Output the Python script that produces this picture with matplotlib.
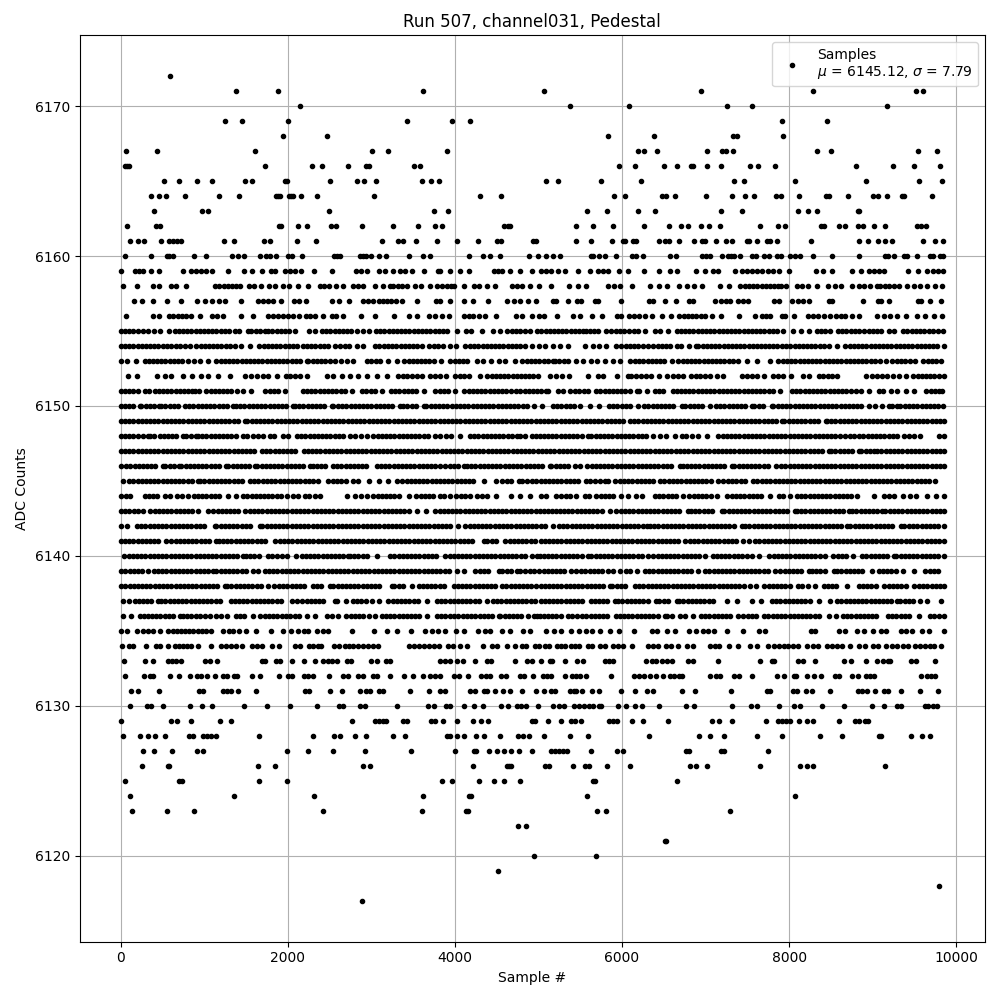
import numpy as np
import matplotlib
matplotlib.use('Agg')
import matplotlib.pyplot as plt

# sample numbers, one list per ADC level
s6172 = [588]
s6171 = [1380, 1884, 3612, 5064, 6948, 8280, 9516, 9600]
s6170 = [2148, 5376, 6084, 7260, 7560, 9168]
s6169 = [1248, 1452, 2004, 3420, 3960, 4176, 7920, 8448]
s6168 = [1944, 2472, 5832, 6384, 7332, 7380, 7932]
s6167 = [60, 432, 1608, 3012, 3204, 3900, 6192, 6264, 6420, 7020, 7200, 7248, 7332, 8328, 8496, 9540, 9768]
s6166 = [48, 72, 96, 1728, 2292, 2412, 2724, 2936, 2968, 3512, 3576, 5964, 6156, 6504, 6660, 6828, 6852, 7020, 7188,
         7536, 7632, 7836, 8796, 9240, 9492, 9804]
s6165 = [516, 696, 912, 1092, 1488, 1572, 1968, 1992, 2508, 2832, 2916, 3060, 3600, 3708, 3804, 5088, 5232, 5748, 6228,
         7344, 7464, 8076, 8916, 9552, 9828]
s6164 = [360, 456, 540, 768, 1176, 1416, 1860, 1884, 1908, 2016, 2040, 2064, 2160, 2352, 3036, 4296, 4548, 5904, 6036,
         6480, 6528, 6636, 7008, 7320, 7476, 7584, 7848, 7908, 8124, 8436, 8472, 8700, 9000, 9060, 9168, 9348, 9372, 9708]
s6163 = [396, 972, 1044, 2496, 3744, 3912, 5580, 5820, 6192, 6396, 7188, 7440, 8112, 8220, 8328, 8820, 8840]
s6162 = [72, 420, 468, 1896, 1920, 2124, 2232, 2520, 2580, 2892, 3264, 3552, 3756, 3840, 4584, 4632, 4664, 5448, 5652,
         5892, 6264, 6564, 6708, 6792, 6948, 7044, 7176, 7656, 7872, 7956, 8376, 8412, 8592, 8664, 8820, 8880, 9012,
         9144, 9528, 9576, 9636]
s6161 = [108, 204, 276, 480, 576, 624, 672, 720, 1236, 1356, 1716, 1788, 2112, 2340, 3132, 3324, 3372, 3528, 3780, 4020,
         4272, 4500, 4548, 4932, 4964, 5448, 5628, 5880, 6012, 6036, 6132, 6168, 6444, 6516, 6564, 6684, 6864, 6960,
         6996, 7128, 7248, 7320, 7500, 7524, 7620, 7740, 7776, 7860, 8256, 8832, 8940, 9060, 9144, 9228, 9600, 9744, 9845]
s6160 = [48, 360, 552, 576, 624, 876, 1020, 1332, 1404, 1476, 1668, 1740, 1788, 1860, 2004, 2052, 2172, 2556, 2592, 2628,
         2868, 2904, 2940, 3000, 3096, 3180, 3444, 3612, 3696, 4164, 4332, 4416, 4536, 4884, 4992, 5088, 5172, 5256,
         5628, 5652, 5724, 5796, 5928, 6120, 6168, 6252, 6576, 6648, 6960, 7008, 7056, 7200, 7272, 7308, 7344, 7416,
         7560, 7608, 7704, 7764, 7860, 7908, 8016, 8076, 8136, 8280, 8508, 8832, 9144, 9180, 9252, 9372, 9408, 9528,
         9684, 9720, 9804, 9845]
s6159 = [0, 168, 216, 264, 360, 456, 744, 840, 900, 960, 1020, 1092, 1284, 1476, 1572, 1692, 1800, 1848, 1960, 2020, 2090,
         2160, 2316, 2532, 2820, 2880, 2952, 3096, 3160, 3264, 3344, 3400, 3484, 3624, 3792, 3816, 3936, 4056, 4164,
         4464, 4520, 4564, 4656, 4776, 4920, 5028, 5088, 5148, 5232, 5316, 5472, 5620, 5712, 5772, 5832, 5964, 6072,
         6264, 6444, 6576, 6660, 6888, 6996, 7092, 7152, 7356, 7440, 7500, 7560, 7612, 7672, 7752, 7812, 7884, 8004,
         8316, 8400, 8508, 8748, 8856, 8952, 9012, 9070, 9132, 9420, 9540, 9648, 9720, 9780, 9845]
s6158 = [24, 192, 384, 456, 600, 656, 780, 1128, 1180, 1230, 1280, 1330, 1380, 1424, 1536, 1600, 1684, 1776, 1840, 1944,
         2016, 2124, 2244, 2384, 2430, 2490, 2576, 2664, 2784, 2840, 2900, 3044, 3144, 3224, 3264, 3320, 3370, 3424,
         3524, 3588, 3704, 3784, 3844, 3900, 3950, 3990, 4104, 4224, 4284, 4384, 4476, 4684, 4744, 4804, 4904, 5004,
         5152, 5364, 5472, 5572, 5832, 5900, 5980, 6124, 6340, 6444, 6540, 6684, 6780, 6864, 6960, 7176, 7284, 7416,
         7470, 7520, 7570, 7620, 7670, 7720, 7770, 7820, 7870, 7900, 7968, 8100, 8160, 8220, 8328, 8460, 8552, 8620,
         8752, 8832, 8900, 8970, 9052, 9092, 9150, 9200, 9260, 9320, 9412, 9500, 9572, 9652, 9744, 9824]
s6157 = [156, 252, 384, 552, 720, 912, 1008, 1092, 1176, 1248, 1440, 1644, 1700, 1760, 1824, 1920, 2076, 2136, 2220, 2532,
         2616, 2736, 2904, 2960, 3020, 3090, 3144, 3184, 3240, 3300, 3364, 3540, 3768, 3816, 3936, 4104, 4212, 4392,
         4620, 4704, 4776, 4872, 4968, 5172, 5208, 5352, 5460, 5508, 5676, 5712, 5988, 6324, 6372, 6516, 6648, 6804,
         6852, 7116, 7180, 7240, 7292, 7392, 7450, 7512, 7824, 7884, 8040, 8112, 8172, 8232, 8472, 8508, 8880, 9060,
         9096, 9192, 9540, 9576, 9684, 9816]
s6156 = [60, 384, 456, 576, 630, 680, 730, 776, 840, 948, 1092, 1150, 1224, 1440, 1584, 1764, 1824, 1884, 1940, 2000, 2056,
         2136, 2216, 2270, 2330, 2424, 2524, 2580, 2664, 2880, 3048, 3276, 3444, 3540, 3684, 3760, 3840, 3924, 4104,
         4170, 4220, 4290, 4364, 4488, 4728, 4800, 4924, 5004, 5064, 5220, 5412, 5492, 5640, 5760, 5940, 5992, 6084,
         6140, 6200, 6272, 6360, 6476, 6588, 6684, 6740, 6790, 6840, 6890, 6940, 6990, 7072, 7188, 7404, 7596, 7672,
         7720, 7772, 7912, 7956, 8064, 8220, 8280, 8340, 8412, 8492, 8560, 8620, 8672, 8748, 8832, 9052, 9132, 9204,
         9288, 9396, 9528, 9624, 9732, 9828]
s6155 = [0, 50, 100, 150, 200, 260, 324, 396, 470, 576, 644, 695, 745, 795, 845, 895, 945, 995, 1045, 1095, 1145, 1195, 1245,
         1295, 1364, 1416, 1524, 1564, 1620, 1670, 1724, 1764, 1815, 1865, 1915, 1965, 2015, 2084, 2256, 2320, 2404,
         2456, 2510, 2560, 2610, 2660, 2710, 2760, 2830, 2900, 2976, 3056, 3105, 3155, 3205, 3255, 3305, 3355, 3405,
         3455, 3505, 3555, 3605, 3655, 3705, 3755, 3805, 3855, 3904, 4024, 4136, 4192, 4324, 4456, 4536, 4624, 4680,
         4730, 4780, 4844, 4904, 4984, 5032, 5085, 5135, 5185, 5235, 5285, 5335, 5385, 5435, 5485, 5535, 5572, 5612,
         5665, 5715, 5812, 5872, 5925, 5975, 6025, 6080, 6140, 6192, 6280, 6392, 6460, 6552, 6652, 6705, 6755, 6805,
         6855, 6905, 6955, 7005, 7055, 7105, 7155, 7205, 7255, 7305, 7355, 7405, 7455, 7505, 7555, 7605, 7655, 7705,
         7755, 7805, 7855, 7932, 8044, 8140, 8236, 8332, 8385, 8435, 8485, 8580, 8632, 8685, 8735, 8785, 8835, 8892,
         8952, 9005, 9055, 9105, 9192, 9252, 9364, 9412, 9465, 9515, 9565, 9615, 9672, 9724, 9780, 9845]
s6154 = [0, 50, 100, 150, 200, 250, 300, 350, 400, 450, 500, 550, 600, 664, 704, 770, 824, 904, 955, 1005, 1055, 1105, 1155,
         1205, 1255, 1305, 1364, 1444, 1544, 1656, 1710, 1760, 1810, 1860, 1910, 1960, 2010, 2060, 2104, 2176, 2230,
         2280, 2330, 2380, 2430, 2480, 2564, 2624, 2680, 2730, 2824, 2904, 3044, 3096, 3150, 3200, 3250, 3300, 3350,
         3400, 3450, 3500, 3550, 3600, 3684, 3744, 3800, 3860, 3944, 4008, 4124, 4176, 4230, 4280, 4330, 4380, 4430,
         4480, 4530, 4580, 4630, 4680, 4730, 4780, 4844, 4924, 5000, 5072, 5172, 5260, 5352, 5552, 5648, 5728, 5812,
         5932, 5992, 6045, 6095, 6145, 6195, 6250, 6312, 6372, 6425, 6475, 6525, 6575, 6652, 6700, 6800, 6884, 6912,
         6965, 7015, 7065, 7115, 7165, 7215, 7265, 7315, 7365, 7415, 7465, 7515, 7565, 7615, 7665, 7715, 7765, 7812,
         7860, 7915, 7965, 8015, 8065, 8115, 8165, 8215, 8265, 8315, 8365, 8415, 8472, 8572, 8672, 8725, 8775, 8825,
         8875, 8925, 8975, 9025, 9075, 9125, 9175, 9225, 9275, 9325, 9375, 9425, 9475, 9525, 9575, 9625, 9675, 9725,
         9775, 9850]
s6153 = [0, 80, 184, 284, 335, 385, 435, 485, 535, 585, 635, 685, 735, 804, 872, 950, 1044, 1144, 1195, 1245, 1295, 1345, 1395,
         1445, 1495, 1545, 1595, 1645, 1695, 1745, 1795, 1845, 1895, 1945, 1995, 2045, 2095, 2145, 2224, 2244, 2300,
         2350, 2400, 2450, 2510, 2564, 2632, 2710, 2784, 2944, 3000, 3050, 3100, 3204, 3304, 3392, 3445, 3495, 3545,
         3595, 3645, 3695, 3745, 3832, 3944, 4000, 4050, 4100, 4150, 4264, 4336, 4430, 4524, 4604, 4724, 4804, 4860,
         4910, 4960, 5010, 5060, 5110, 5172, 5192, 5250, 5300, 5350, 5452, 5532, 5632, 5700, 5792, 5892, 5980, 6092,
         6152, 6205, 6255, 6305, 6355, 6405, 6455, 6505, 6592, 6672, 6725, 6775, 6825, 6875, 6925, 6975, 7025, 7075,
         7125, 7175, 7225, 7275, 7325, 7392, 7492, 7612, 7772, 7872, 7925, 7975, 8025, 8075, 8125, 8175, 8225, 8275,
         8325, 8375, 8425, 8475, 8525, 8575, 8625, 8675, 8725, 8775, 8825, 8875, 8925, 8975, 9025, 9092, 9156, 9232,
         9290, 9340, 9390, 9450, 9512, 9604, 9660, 9710, 9760, 9820]
s6152 = [92, 196, 432, 524, 600, 744, 852, 956, 1040, 1164, 1304, 1484, 1560, 1630, 1704, 1764, 1864, 1976, 2030, 2080, 2140,
         2224, 2472, 2544, 2644, 2744, 2844, 2944, 3064, 3184, 3324, 3380, 3430, 3480, 3540, 3604, 3704, 3760, 3820,
         3896, 3996, 4060, 4110, 4164, 4304, 4384, 4440, 4490, 4540, 4590, 4640, 4690, 4740, 4790, 4840, 4884, 4932,
         4992, 5132, 5212, 5280, 5364, 5596, 5712, 5772, 5940, 6072, 6104, 6172, 6230, 6290, 6352, 6444, 6540, 6612,
         6670, 6724, 6824, 6880, 6930, 6990, 7052, 7132, 7204, 7432, 7490, 7550, 7612, 7704, 7812, 7870, 7932, 8020,
         8164, 8232, 8352, 8410, 8460, 8510, 8572, 8924, 8990, 9052, 9112, 9170, 9240, 9312, 9400, 9484, 9540, 9590,
         9640, 9692, 9732, 9792, 9850]
s6151 = [0, 50, 100, 150, 200, 284, 332, 404, 455, 505, 555, 605, 655, 705, 755, 805, 855, 884, 936, 1024, 1075, 1125, 1175,
         1225, 1275, 1325, 1392, 1464, 1564, 1724, 1780, 1830, 1880, 1964, 2176, 2230, 2280, 2330, 2380, 2430, 2480,
         2530, 2580, 2630, 2684, 2772, 2884, 2940, 2990, 3040, 3124, 3232, 3285, 3335, 3385, 3435, 3485, 3535, 3632,
         3764, 3820, 3870, 3920, 4004, 4112, 4165, 4215, 4265, 4315, 4365, 4415, 4465, 4515, 4565, 4615, 4665, 4736,
         4784, 4835, 4885, 4935, 4985, 5035, 5084, 5112, 5232, 5292, 5372, 5432, 5490, 5540, 5590, 5692, 5740, 5790,
         5840, 5890, 5940, 5990, 6040, 6090, 6180, 6204, 6300, 6392, 6444, 6492, 6604, 6652, 6705, 6755, 6805, 6855,
         6905, 6955, 7005, 7055, 7105, 7155, 7205, 7255, 7305, 7355, 7405, 7455, 7505, 7555, 7605, 7655, 7705, 7755,
         7805, 7892, 8032, 8085, 8135, 8185, 8235, 8285, 8335, 8385, 8435, 8485, 8535, 8585, 8635, 8685, 8735, 8804,
         8860, 8960, 9072, 9124, 9216, 9292, 9400, 9492, 9644, 9695, 9745, 9790, 9832]
s6150 = [0, 50, 100, 150, 224, 244, 300, 350, 400, 456, 484, 535, 585, 635, 685, 764, 816, 870, 920, 970, 1020, 1070, 1120,
         1170, 1220, 1270, 1344, 1376, 1430, 1480, 1530, 1580, 1630, 1680, 1730, 1780, 1830, 1880, 1930, 1980, 2056,
         2084, 2135, 2185, 2235, 2285, 2335, 2385, 2435, 2524, 2544, 2600, 2650, 2700, 2750, 2800, 2850, 2900, 2950,
         3000, 3050, 3100, 3150, 3200, 3250, 3344, 3376, 3430, 3480, 3530, 3632, 3656, 3710, 3760, 3810, 3860, 3910,
         3960, 4010, 4060, 4110, 4160, 4210, 4260, 4310, 4360, 4410, 4460, 4510, 4560, 4610, 4660, 4710, 4760, 4810,
         4860, 4944, 5044, 5172, 5225, 5275, 5325, 5375, 5425, 5492, 5612, 5724, 5844, 5895, 5945, 5995, 6045, 6095,
         6192, 6260, 6315, 6365, 6415, 6465, 6515, 6565, 6615, 6712, 6756, 6810, 6860, 6910, 6960, 7052, 7120, 7175,
         7225, 7275, 7325, 7375, 7425, 7475, 7552, 7580, 7640, 7690, 7792, 7812, 7865, 7915, 7965, 8015, 8065, 8115,
         8165, 8215, 8265, 8315, 8365, 8415, 8465, 8515, 8565, 8615, 8665, 8715, 8765, 8815, 8865, 8952, 9032, 9110,
         9192, 9232, 9292, 9332, 9385, 9435, 9485, 9535, 9585, 9635, 9685, 9735, 9785, 9840]
s6149 = [0, 50, 100, 150, 200, 250, 300, 350, 400, 450, 500, 550, 600, 650, 700, 750, 800, 850, 900, 950, 1000, 1050, 1100,
         1150, 1200, 1250, 1300, 1350, 1400, 1484, 1512, 1565, 1615, 1665, 1715, 1765, 1815, 1865, 1915, 1965, 2015,
         2065, 2115, 2165, 2215, 2265, 2315, 2365, 2415, 2465, 2515, 2565, 2615, 2665, 2715, 2765, 2815, 2865, 2915,
         2965, 3015, 3065, 3115, 3165, 3215, 3265, 3315, 3365, 3415, 3465, 3515, 3565, 3615, 3665, 3715, 3765, 3815,
         3865, 3915, 3965, 4015, 4065, 4115, 4165, 4215, 4265, 4315, 4365, 4415, 4465, 4515, 4565, 4615, 4665, 4715,
         4765, 4815, 4865, 4915, 4965, 5015, 5065, 5115, 5165, 5215, 5265, 5315, 5365, 5415, 5465, 5515, 5565, 5615,
         5665, 5715, 5765, 5815, 5865, 5915, 5965, 6015, 6092, 6140, 6195, 6245, 6295, 6345, 6395, 6445, 6495, 6545,
         6595, 6645, 6695, 6745, 6795, 6845, 6895, 6945, 6995, 7045, 7095, 7145, 7195, 7245, 7295, 7345, 7395, 7445,
         7495, 7545, 7595, 7645, 7695, 7745, 7795, 7845, 7912, 7940, 7995, 8045, 8095, 8145, 8195, 8245, 8295, 8345,
         8444, 8452, 8505, 8555, 8605, 8655, 8705, 8755, 8805, 8855, 8905, 8955, 9005, 9055, 9105, 9155, 9205, 9255,
         9305, 9355, 9405, 9455, 9505, 9555, 9605, 9655, 9705, 9755, 9805, 9850]
s6148 = [0, 50, 100, 150, 200, 260, 324, 344, 400, 464, 512, 565, 615, 665, 744, 776, 840, 896, 924, 975, 1025, 1075, 1125,
         1175, 1225, 1275, 1325, 1375, 1464, 1512, 1584, 1640, 1700, 1784, 1832, 1936, 2004, 2104, 2160, 2210, 2260,
         2310, 2360, 2410, 2460, 2510, 2560, 2610, 2660, 2744, 2804, 2880, 2944, 3024, 3075, 3125, 3175, 3225, 3275,
         3325, 3375, 3425, 3475, 3525, 3575, 3625, 3675, 3764, 3824, 3890, 3950, 4064, 4176, 4230, 4280, 4330, 4380,
         4430, 4480, 4530, 4580, 4630, 4680, 4744, 4784, 4840, 4924, 4964, 5015, 5065, 5115, 5165, 5215, 5265, 5315,
         5365, 5415, 5465, 5515, 5592, 5632, 5685, 5735, 5785, 5835, 5885, 5935, 5985, 6035, 6085, 6135, 6185, 6235,
         6285, 6372, 6452, 6530, 6632, 6712, 6770, 6832, 6904, 7012, 7152, 7205, 7255, 7305, 7355, 7405, 7455, 7505,
         7555, 7605, 7655, 7705, 7755, 7805, 7855, 7905, 7955, 8005, 8055, 8105, 8155, 8205, 8255, 8305, 8355, 8405,
         8455, 8505, 8555, 8605, 8672, 8724, 8780, 8832, 8884, 8940, 8990, 9040, 9090, 9140, 9190, 9240, 9290, 9372,
         9432, 9500, 9572, 9792, 9850]
s6147 = [0, 50, 100, 150, 200, 250, 300, 350, 400, 450, 500, 550, 600, 650, 700, 750, 800, 850, 900, 950, 1000, 1050, 1100,
         1150, 1200, 1250, 1300, 1350, 1400, 1450, 1500, 1550, 1600, 1690, 1740, 1790, 1840, 1890, 1940, 1990, 2040,
         2090, 2190, 2240, 2290, 2340, 2390, 2440, 2490, 2540, 2590, 2640, 2690, 2740, 2790, 2840, 2890, 2940, 2990,
         3040, 3090, 3140, 3190, 3240, 3290, 3340, 3390, 3440, 3490, 3540, 3590, 3640, 3690, 3740, 3790, 3840, 3890,
         3940, 3990, 4040, 4090, 4140, 4190, 4240, 4290, 4340, 4390, 4440, 4490, 4540, 4590, 4640, 4690, 4740, 4790,
         4840, 4890, 4940, 4990, 5040, 5090, 5140, 5190, 5240, 5290, 5340, 5390, 5440, 5490, 5540, 5590, 5640, 5690,
         5740, 5790, 5840, 5890, 5940, 5990, 6040, 6090, 6140, 6190, 6240, 6290, 6340, 6390, 6440, 6490, 6540, 6590,
         6640, 6690, 6740, 6790, 6852, 6892, 6945, 6995, 7045, 7095, 7145, 7195, 7245, 7295, 7345, 7395, 7445, 7495,
         7545, 7595, 7645, 7695, 7745, 7795, 7845, 7895, 7945, 7995, 8045, 8095, 8145, 8195, 8245, 8295, 8345, 8395,
         8472, 8500, 8555, 8605, 8655, 8705, 8755, 8832, 8860, 8920, 8970, 9020, 9052, 9105, 9155, 9205, 9255, 9305,
         9355, 9405, 9455, 9505, 9555, 9605, 9655, 9705, 9755, 9805, 9850]
s6146 = [0, 64, 115, 165, 215, 265, 315, 365, 415, 504, 532, 590, 640, 696, 724, 775, 825, 875, 925, 975, 1025, 1075, 1125,
         1175, 1264, 1284, 1340, 1390, 1440, 1490, 1540, 1604, 1632, 1685, 1735, 1785, 1835, 1885, 1935, 1985, 2035,
         2085, 2135, 2185, 2264, 2296, 2350, 2400, 2450, 2544, 2584, 2640, 2690, 2740, 2790, 2840, 2890, 2940, 3064,
         3112, 3165, 3215, 3265, 3315, 3365, 3415, 3465, 3515, 3565, 3615, 3665, 3715, 3765, 3824, 3884, 3940, 3990,
         4040, 4112, 4144, 4195, 4245, 4295, 4345, 4395, 4445, 4495, 4545, 4595, 4645, 4695, 4745, 4795, 4845, 4895,
         4945, 4995, 5045, 5132, 5152, 5205, 5255, 5305, 5355, 5432, 5500, 5580, 5635, 5685, 5735, 5785, 5835, 5885,
         5935, 5985, 6035, 6085, 6135, 6185, 6235, 6285, 6335, 6385, 6435, 6485, 6535, 6585, 6692, 6724, 6775, 6825,
         6875, 6925, 6975, 7025, 7075, 7125, 7175, 7225, 7312, 7340, 7395, 7445, 7495, 7545, 7595, 7645, 7695, 7745,
         7844, 7900, 7955, 8005, 8055, 8105, 8155, 8205, 8255, 8305, 8355, 8405, 8455, 8505, 8555, 8605, 8655, 8705,
         8755, 8805, 8855, 8905, 8955, 9005, 9055, 9105, 9155, 9205, 9255, 9305, 9355, 9405, 9455, 9505, 9555, 9605,
         9655, 9705, 9755, 9805, 9850]
s6145 = [32, 96, 150, 200, 250, 300, 350, 400, 450, 500, 550, 600, 650, 700, 750, 800, 850, 924, 944, 1000, 1050, 1100, 1150,
         1200, 1250, 1300, 1350, 1400, 1450, 1544, 1592, 1644, 1700, 1750, 1800, 1850, 1900, 1950, 2000, 2050, 2100,
         2150, 2200, 2250, 2300, 2364, 2484, 2540, 2590, 2640, 2690, 2784, 2844, 2976, 3096, 3200, 3304, 3364, 3420,
         3470, 3520, 3570, 3620, 3670, 3720, 3770, 3820, 3870, 3920, 3970, 4020, 4070, 4120, 4170, 4220, 4344, 4492,
         4564, 4620, 4670, 4764, 4804, 4860, 4924, 4972, 5025, 5075, 5125, 5175, 5225, 5275, 5325, 5375, 5425, 5475,
         5564, 5620, 5680, 5740, 5792, 5832, 5920, 5972, 6025, 6075, 6125, 6175, 6225, 6275, 6325, 6375, 6452, 6504,
         6560, 6610, 6660, 6710, 6760, 6810, 6860, 6910, 6960, 7010, 7060, 7152, 7212, 7270, 7320, 7370, 7420, 7470,
         7564, 7620, 7675, 7725, 7775, 7825, 7875, 7925, 7975, 8025, 8075, 8125, 8175, 8225, 8275, 8325, 8375, 8425,
         8475, 8525, 8575, 8625, 8675, 8725, 8775, 8825, 8875, 8925, 8975, 9025, 9075, 9125, 9175, 9225, 9275, 9325,
         9375, 9425, 9475, 9525, 9575, 9625, 9675, 9752]
s6144 = [4, 60, 112, 284, 335, 385, 435, 524, 584, 672, 730, 804, 872, 925, 975, 1025, 1075, 1125, 1175, 1284, 1376, 1464,
         1515, 1565, 1615, 1665, 1715, 1765, 1815, 1865, 1915, 1992, 2056, 2120, 2204, 2256, 2320, 2384, 2712, 2804,
         2880, 2952, 3024, 3075, 3125, 3175, 3225, 3275, 3325, 3444, 3536, 3590, 3640, 3690, 3740, 3824, 3872, 3944,
         4016, 4070, 4120, 4180, 4264, 4324, 4384, 4496, 4672, 4776, 4904, 5024, 5092, 5204, 5272, 5330, 5380, 5450,
         5552, 5604, 5692, 5745, 5795, 5845, 5895, 5992, 6072, 6164, 6244, 6392, 6445, 6495, 6545, 6595, 6645, 6732,
         6804, 6860, 6910, 6960, 7010, 7060, 7132, 7260, 7315, 7365, 7415, 7465, 7515, 7565, 7615, 7665, 7772, 7884,
         7932, 8012, 8092, 8145, 8195, 8245, 8295, 8345, 8395, 8445, 8495, 8545, 8595, 8645, 8695, 8745, 8812, 9020,
         9132, 9190, 9252, 9364, 9452, 9520, 9652, 9756, 9852]
s6143 = [0, 50, 100, 156, 204, 270, 344, 404, 455, 505, 555, 605, 655, 705, 755, 805, 855, 924, 1044, 1104, 1160, 1210, 1260,
         1310, 1360, 1404, 1492, 1545, 1595, 1645, 1695, 1745, 1795, 1845, 1895, 1945, 1995, 2045, 2095, 2145, 2195,
         2245, 2295, 2345, 2395, 2445, 2495, 2545, 2595, 2645, 2695, 2745, 2795, 2845, 2895, 2945, 2995, 3045, 3095,
         3145, 3195, 3245, 3295, 3345, 3395, 3445, 3544, 3656, 3764, 3815, 3865, 3915, 3965, 4015, 4065, 4115, 4165,
         4215, 4265, 4315, 4365, 4415, 4465, 4515, 4565, 4615, 4665, 4715, 4765, 4815, 4865, 4915, 4965, 5015, 5065,
         5115, 5164, 5204, 5255, 5305, 5355, 5405, 5455, 5505, 5555, 5605, 5655, 5705, 5755, 5852, 5932, 5985, 6035,
         6085, 6135, 6185, 6235, 6285, 6335, 6385, 6435, 6485, 6535, 6585, 6635, 6685, 6792, 6820, 6875, 6925, 6975,
         7025, 7075, 7192, 7224, 7275, 7325, 7375, 7425, 7475, 7525, 7575, 7625, 7675, 7725, 7775, 7825, 7875, 7925,
         7975, 8072, 8092, 8145, 8195, 8245, 8295, 8345, 8395, 8445, 8495, 8545, 8595, 8645, 8712, 8752, 8805, 8855,
         8905, 8955, 9005, 9055, 9112, 9152, 9205, 9255, 9305, 9355, 9405, 9455, 9505, 9555, 9605, 9655, 9705, 9755,
         9805, 9850]
s6142 = [4, 80, 192, 244, 295, 345, 395, 445, 495, 545, 595, 645, 695, 745, 795, 845, 895, 945, 995, 1124, 1144, 1195, 1245,
         1295, 1345, 1395, 1445, 1495, 1545, 1664, 1696, 1745, 1795, 1845, 1895, 1945, 1995, 2045, 2095, 2145, 2195,
         2245, 2295, 2345, 2395, 2445, 2495, 2545, 2595, 2645, 2695, 2745, 2795, 2845, 2895, 2945, 2995, 3045, 3095,
         3145, 3195, 3245, 3295, 3345, 3395, 3445, 3495, 3545, 3595, 3645, 3695, 3745, 3795, 3845, 3895, 3945, 4032,
         4124, 4175, 4225, 4275, 4325, 4375, 4425, 4475, 4525, 4575, 4625, 4675, 4725, 4775, 4825, 4875, 4925, 4975,
         5025, 5075, 5172, 5244, 5295, 5345, 5395, 5445, 5495, 5545, 5595, 5645, 5695, 5745, 5795, 5845, 5895, 5945,
         5995, 6045, 6095, 6145, 6195, 6245, 6300, 6332, 6385, 6435, 6485, 6535, 6585, 6635, 6685, 6735, 6785, 6835,
         6885, 6935, 6985, 7035, 7085, 7135, 7185, 7235, 7285, 7335, 7432, 7472, 7525, 7575, 7625, 7675, 7725, 7775,
         7825, 7875, 7925, 7975, 8025, 8075, 8125, 8175, 8225, 8275, 8325, 8375, 8425, 8475, 8525, 8575, 8625, 8692,
         8732, 8785, 8835, 8885, 8935, 8985, 9035, 9085, 9135, 9185, 9235, 9340, 9380, 9435, 9485, 9535, 9585, 9635,
         9685, 9735, 9785, 9852]
s6141 = [0, 50, 100, 150, 200, 250, 300, 350, 400, 450, 544, 604, 655, 705, 755, 805, 855, 905, 955, 1005, 1055, 1144, 1176,
         1225, 1275, 1325, 1375, 1425, 1475, 1525, 1575, 1625, 1675, 1725, 1844, 1904, 1955, 2005, 2055, 2105, 2155,
         2205, 2255, 2305, 2355, 2405, 2455, 2505, 2555, 2605, 2655, 2705, 2755, 2805, 2855, 2905, 2955, 3005, 3055,
         3105, 3155, 3205, 3255, 3305, 3355, 3405, 3455, 3505, 3555, 3605, 3655, 3705, 3755, 3805, 3855, 3905, 3955,
         4005, 4055, 4105, 4155, 4205, 4344, 4384, 4440, 4490, 4604, 4656, 4705, 4755, 4805, 4855, 4905, 4955, 5024,
         5075, 5125, 5175, 5225, 5275, 5325, 5375, 5425, 5475, 5525, 5575, 5625, 5675, 5725, 5775, 5825, 5875, 5925,
         5975, 6025, 6075, 6125, 6175, 6225, 6275, 6325, 6375, 6425, 6475, 6525, 6575, 6625, 6675, 6752, 6812, 6865,
         6915, 6965, 7015, 7065, 7115, 7165, 7215, 7265, 7315, 7365, 7452, 7520, 7592, 7645, 7695, 7745, 7795, 7845,
         7895, 7945, 7995, 8045, 8095, 8145, 8195, 8245, 8295, 8345, 8395, 8445, 8495, 8545, 8595, 8645, 8695, 8745,
         8795, 8845, 8895, 8945, 8995, 9045, 9095, 9145, 9195, 9245, 9295, 9345, 9395, 9445, 9495, 9545, 9595, 9645,
         9695, 9745, 9795, 9850]
s6140 = [44, 95, 145, 195, 245, 295, 345, 395, 445, 495, 545, 595, 645, 695, 745, 795, 845, 895, 945, 995, 1045, 1095, 1145,
         1195, 1245, 1295, 1345, 1395, 1464, 1496, 1550, 1600, 1650, 1764, 1804, 1864, 1924, 1990, 2096, 2164, 2215,
         2265, 2315, 2365, 2415, 2465, 2515, 2565, 2615, 2665, 2724, 2744, 2795, 2845, 2895, 2945, 3064, 3224, 3275,
         3325, 3375, 3425, 3475, 3525, 3575, 3625, 3675, 3725, 3775, 3884, 3936, 3985, 4035, 4085, 4135, 4185, 4235,
         4285, 4335, 4385, 4435, 4485, 4535, 4585, 4635, 4685, 4735, 4785, 4835, 4924, 4984, 5015, 5065, 5115, 5165,
         5215, 5265, 5315, 5365, 5415, 5465, 5515, 5592, 5632, 5685, 5735, 5785, 5835, 5885, 5935, 5985, 6035, 6085,
         6135, 6185, 6235, 6312, 6372, 6425, 6475, 6525, 6575, 6625, 6675, 6725, 6775, 6825, 6875, 6925, 6992, 7084,
         7135, 7185, 7235, 7285, 7335, 7385, 7435, 7492, 7552, 7644, 7764, 7815, 7865, 7915, 7965, 8015, 8065, 8115,
         8165, 8215, 8265, 8315, 8365, 8432, 8524, 8580, 8630, 8680, 8764, 8872, 8925, 8975, 9025, 9075, 9125, 9175,
         9252, 9284, 9335, 9385, 9435, 9485, 9535, 9585, 9635, 9685, 9735, 9785, 9850]
s6139 = [4, 55, 105, 155, 205, 255, 324, 392, 445, 495, 545, 595, 645, 695, 745, 795, 845, 895, 945, 995, 1045, 1104, 1144,
         1195, 1245, 1295, 1345, 1395, 1445, 1495, 1584, 1644, 1724, 1775, 1825, 1875, 1925, 1975, 2025, 2075, 2125,
         2175, 2225, 2275, 2325, 2375, 2425, 2475, 2525, 2575, 2625, 2675, 2725, 2775, 2825, 2875, 2925, 2975, 3025,
         3075, 3125, 3175, 3225, 3275, 3325, 3375, 3425, 3475, 3525, 3575, 3625, 3675, 3725, 3775, 3825, 3875, 3925,
         4024, 4104, 4244, 4300, 4350, 4400, 4524, 4564, 4620, 4670, 4744, 4784, 4840, 4900, 4944, 5004, 5060, 5110,
         5160, 5210, 5260, 5310, 5392, 5444, 5512, 5560, 5620, 5660, 5715, 5765, 5832, 5892, 5972, 6044, 6100, 6180,
         6272, 6325, 6375, 6425, 6475, 6525, 6575, 6625, 6675, 6725, 6775, 6825, 6912, 6992, 7045, 7095, 7145, 7195,
         7245, 7295, 7345, 7395, 7445, 7495, 7545, 7595, 7645, 7695, 7745, 7832, 7892, 7945, 7995, 8045, 8095, 8145,
         8232, 8272, 8325, 8375, 8425, 8532, 8572, 8625, 8675, 8725, 8775, 8825, 8875, 8992, 9072, 9125, 9175, 9225,
         9275, 9364, 9500, 9632, 9685, 9735, 9780]
s6138 = [4, 55, 105, 155, 205, 255, 305, 355, 405, 455, 505, 555, 605, 655, 705, 755, 805, 855, 905, 955, 1005, 1055, 1105,
         1155, 1244, 1272, 1325, 1375, 1425, 1475, 1525, 1575, 1625, 1675, 1764, 1832, 1896, 1945, 1995, 2045, 2095,
         2145, 2195, 2304, 2344, 2400, 2504, 2544, 2595, 2645, 2695, 2745, 2795, 2845, 2895, 2945, 2995, 3045, 3095,
         3244, 3272, 3325, 3375, 3484, 3564, 3615, 3665, 3715, 3765, 3815, 3865, 3984, 4032, 4085, 4135, 4185, 4235,
         4285, 4335, 4385, 4435, 4485, 4564, 4616, 4665, 4715, 4765, 4815, 4865, 4915, 4965, 5024, 5075, 5125, 5175,
         5225, 5275, 5325, 5375, 5425, 5475, 5525, 5575, 5625, 5675, 5725, 5775, 5852, 5884, 5935, 5985, 6035, 6152,
         6204, 6255, 6305, 6355, 6405, 6455, 6505, 6555, 6605, 6655, 6705, 6755, 6805, 6855, 6905, 6955, 7005, 7055,
         7105, 7155, 7205, 7255, 7305, 7355, 7405, 7455, 7532, 7604, 7700, 7755, 7805, 7855, 7905, 7955, 8005, 8112,
         8152, 8230, 8312, 8412, 8465, 8515, 8565, 8692, 8832, 8885, 8935, 8985, 9035, 9132, 9192, 9245, 9295, 9345,
         9395, 9492, 9552, 9605, 9655, 9705, 9755, 9805, 9850]
s6137 = [32, 104, 164, 215, 265, 315, 365, 444, 484, 535, 585, 635, 685, 735, 785, 835, 885, 935, 985, 1035, 1085, 1135,
         1185, 1324, 1364, 1415, 1465, 1515, 1565, 1615, 1665, 1715, 1765, 1815, 1865, 1915, 2044, 2104, 2164, 2224,
         2275, 2325, 2375, 2425, 2564, 2592, 2696, 2776, 2830, 2880, 2930, 3010, 3096, 3204, 3255, 3305, 3355, 3405,
         3455, 3505, 3555, 3664, 3784, 3835, 3885, 3935, 3985, 4035, 4085, 4135, 4185, 4235, 4285, 4384, 4456, 4505,
         4555, 4605, 4655, 4705, 4755, 4805, 4855, 4905, 4955, 5024, 5075, 5125, 5175, 5225, 5275, 5325, 5375, 5425,
         5475, 5525, 5632, 5672, 5725, 5775, 5825, 5912, 5952, 6005, 6055, 6105, 6155, 6205, 6255, 6305, 6404, 6444,
         6500, 6550, 6652, 6684, 6735, 6785, 6835, 6885, 6935, 6985, 7035, 7085, 7252, 7380, 7552, 7660, 7792, 7845,
         7895, 7945, 7995, 8045, 8095, 8145, 8195, 8245, 8352, 8492, 8572, 8625, 8675, 8725, 8775, 8825, 8875, 8925,
         8975, 9025, 9075, 9125, 9175, 9225, 9292, 9332, 9385, 9435, 9485, 9572, 9652, 9820]
s6136 = [24, 124, 224, 275, 325, 375, 425, 475, 525, 575, 625, 712, 744, 795, 845, 895, 945, 1010, 1072, 1136, 1200, 1272,
         1376, 1430, 1480, 1584, 1672, 1725, 1775, 1825, 1875, 1925, 1975, 2025, 2084, 2136, 2232, 2324, 2464, 2530, 2604,
         2696, 2750, 2800, 2850, 2904, 2976, 3048, 3124, 3175, 3225, 3275, 3325, 3375, 3425, 3475, 3525, 3575, 3664, 3784,
         3835, 3885, 3935, 3985, 4035, 4096, 4144, 4195, 4245, 4295, 4345, 4395, 4445, 4524, 4544, 4595, 4645, 4695,
         4745, 4795, 4872, 4952, 4985, 5012, 5060, 5115, 5165, 5215, 5265, 5352, 5404, 5460, 5524, 5572, 5625, 5675,
         5725, 5775, 5825, 5932, 5972, 6025, 6075, 6125, 6175, 6225, 6275, 6325, 6375, 6425, 6512, 6540, 6600, 6692,
         6752, 6852, 6940, 6995, 7045, 7095, 7145, 7195, 7245, 7295, 7392, 7452, 7505, 7555, 7605, 7700, 7752, 7805,
         7855, 7905, 7955, 8005, 8055, 8105, 8155, 8205, 8255, 8305, 8355, 8472, 8556, 8644, 8695, 8745, 8795, 8845,
         8895, 8945, 8995, 9045, 9180, 9232, 9285, 9335, 9385, 9435, 9552, 9684, 9740, 9790, 9850]
s6135 = [0, 72, 192, 264, 324, 384, 472, 564, 620, 670, 720, 770, 820, 870, 920, 970, 1020, 1084, 1224, 1296, 1344, 1420, 1496,
         1624, 1792, 1936, 2040, 2124, 2190, 2244, 2344, 2420, 2484, 2764, 3036, 3192, 3304, 3472, 3644, 3720, 3800,
         3884, 4008, 4104, 4272, 4364, 4424, 4564, 4664, 4816, 4896, 5092, 5180, 5272, 5392, 5480, 5572, 5644, 5740,
         5850, 5964, 6148, 6364, 6420, 6540, 6636, 6804, 6890, 6972, 7032, 7100, 7260, 7452, 7644, 7712, 8260, 8312,
         8592, 8672, 8812, 8900, 9004, 9100, 9164, 9340, 9400, 9472, 9596, 9672, 9852]
s6134 = [12, 96, 144, 300, 420, 468, 564, 648, 696, 744, 792, 840, 924, 1080, 1200, 1260, 1320, 1380, 1452, 1572, 1632,
         1692, 1812, 1896, 2088, 2148, 2256, 2304, 2364, 2400, 2556, 2616, 2688, 2736, 2784, 2844, 2904, 2964, 3024,
         3084, 3444, 3504, 3564, 3624, 3684, 3744, 3804, 3912, 3972, 4056, 4140, 4332, 4440, 4500, 4620, 4716, 4800,
         4848, 4956, 5004, 5076, 5124, 5220, 5268, 5316, 5388, 5436, 5484, 5592, 5640, 5736, 5796, 5892, 5952, 6012,
         6120, 6312, 6372, 6432, 6528, 6588, 6672, 6780, 6852, 7056, 7116, 7164, 7284, 7392, 7536, 7620, 7752, 7824,
         7884, 7944, 7992, 8052, 8112, 8208, 8280, 8340, 8448, 8508, 8568, 8628, 8724, 8832, 8904, 9000, 9060, 9156,
         9228, 9288, 9360, 9420, 9504, 9564, 9624, 9684, 9732, 9816]
s6133 = [36, 288, 384, 564, 612, 660, 720, 1008, 1068, 1152, 1692, 1728, 1860, 1908, 2052, 2196, 2328, 2424, 2484, 2532,
         2592, 2712, 2760, 3000, 3072, 3180, 3228, 3816, 3876, 3936, 4020, 4092, 4236, 4380, 4428, 4716, 4860, 4920,
         5028, 5136, 5160, 5316, 5460, 5532, 5796, 5844, 5892, 6288, 6360, 6408, 6480, 6540, 6600, 6792, 6852, 7152,
         7656, 7800, 7824, 8112, 8172, 8304, 8652, 8736, 8916, 9048, 9120, 9180, 9204, 9456, 9516, 9744]
s6132 = [48, 276, 348, 384, 588, 696, 828, 912, 960, 1032, 1128, 1224, 1272, 1356, 1392, 1572, 1668, 1896, 2004, 2052,
         2196, 2244, 2304, 2496, 2664, 2724, 2844, 2904, 3024, 3072, 3228, 3384, 3492, 3612, 3696, 3756, 3816, 3984,
         4044, 4152, 4308, 4368, 4416, 4548, 4608, 4776, 4824, 4932, 5052, 5100, 5148, 5316, 5400, 5448, 5496, 5568,
         5868, 6144, 6204, 6264, 6336, 6408, 6492, 6576, 6624, 6684, 6720, 7056, 7128, 7176, 7344, 7404, 7560, 7860,
         7944, 8064, 8088, 8208, 8292, 8376, 8544, 8592, 8748, 8820, 8916, 8964, 9012, 9576, 9648, 9696, 9744]
s6131 = [120, 204, 456, 936, 984, 1224, 1272, 1320, 1404, 1620, 2208, 2256, 2508, 2652, 2868, 2940, 2988, 3096, 3144, 3456,
         3684, 3816, 3876, 4176, 4236, 4344, 4380, 4476, 4572, 4656, 4800, 4968, 5064, 5148, 5196, 5376, 5424, 5448,
         5520, 5640, 5724, 5988, 6156, 6300, 6372, 6720, 6876, 7308, 7740, 7776, 8052, 8100, 8196, 8268, 8484, 8820,
         8868, 8928, 9024, 9132, 9180, 9336, 9564, 9780]
s6130 = [108, 312, 360, 504, 828, 972, 1092, 1476, 1752, 2028, 2352, 2616, 2664, 2868, 2928, 3312, 3672, 3744, 3888, 3936,
         4104, 4224, 4332, 4548, 4632, 4740, 4788, 4848, 4992, 5172, 5244, 5304, 5424, 5484, 5544, 5604, 5652, 5724,
         5748, 5952, 6048, 6156, 6240, 6444, 6768, 6864, 7320, 7548, 7620, 7884, 8064, 8136, 8388, 8652, 8988, 9132,
         9288, 9336, 9624, 9660, 9720, 9768]
s6129 = [0, 600, 672, 840, 1188, 1320, 2772, 3048, 3096, 3144, 3180, 3372, 3420, 3708, 3756, 3852, 4020, 4212, 4308, 4392,
         4920, 4956, 5112, 5268, 5388, 5436, 5508, 5844, 5892, 5940, 6120, 6252, 6552, 7080, 7164, 7320, 7728, 7872,
         7920, 7968, 8016, 8124, 8208, 8280, 8592, 8784, 8832, 8904, 8940]
s6128 = [24, 228, 324, 408, 528, 816, 864, 984, 1032, 1080, 1140, 1656, 2304, 2556, 2628, 2808, 2940, 3264, 3396, 3900,
         3936, 4020, 4104, 4248, 4344, 4536, 4752, 4812, 4884, 5064, 5376, 5592, 6324, 6924, 7056, 7224, 7620, 7920,
         8364, 8628, 9072, 9096, 9456, 9588, 9684]
s6127 = [264, 396, 612, 912, 984, 1992, 2244, 2544, 2928, 3468, 3996, 4224, 4248, 4404, 4500, 4584, 4668, 4764, 4920,
         5148, 5196, 5244, 5292, 5340, 5628, 5940, 6012, 6768, 6804, 7188, 7224, 7752]
s6126 = [252, 564, 576, 1644, 1848, 2904, 2988, 4212, 4620, 4644, 4668, 5076, 5124, 5412, 5556, 5604, 5820, 6096, 6816, 6888,
         7020, 7656, 8136, 8208, 8280, 9144]
s6125 = [48, 696, 732, 1656, 1992, 3840, 3960, 4284, 4464, 4584, 4776, 5652, 5676, 6660]
s6124 = [108, 1356, 2316, 3612, 4164, 4188, 5580, 8076]
s6123 = [132, 552, 876, 2424, 3600, 4128, 4152, 5700, 5808, 7296]
s6122 = [4752, 4848]
s6121 = [6512, 6528]
s6120 = [4944, 5688]
s6119 = [4512]
s6118 = [9792]
s6117 = [2892]

levels = [6172, 6171, 6170, 6169, 6168, 6167, 6166, 6165, 6164, 6163, 6162, 6161, 6160, 6159, 6158, 6157, 6156, 6155,
          6154, 6153, 6152, 6151, 6150, 6149, 6148, 6147, 6146, 6145, 6144, 6143, 6142, 6141, 6140, 6139, 6138, 6137,
          6136, 6135, 6134, 6133, 6132, 6131, 6130, 6129, 6128, 6127, 6126, 6125, 6124, 6123, 6122, 6121, 6120, 6119,
          6118, 6117]
samples = [s6172, s6171, s6170, s6169, s6168, s6167, s6166, s6165, s6164, s6163, s6162, s6161, s6160, s6159, s6158, s6157,
           s6156, s6155, s6154, s6153, s6152, s6151, s6150, s6149, s6148, s6147, s6146, s6145, s6144, s6143, s6142, s6141,
           s6140, s6139, s6138, s6137, s6136, s6135, s6134, s6133, s6132, s6131, s6130, s6129, s6128, s6127, s6126, s6125,
           s6124, s6123, s6122, s6121, s6120, s6119, s6118, s6117]

mu = 6145.12
sigma = 7.79

x = np.concatenate(samples)
y = np.concatenate([[lev] * len(s) for lev, s in zip(levels, samples)])

plt.figure(figsize=(10, 10))
plt.plot(x, y, 'k.', label='Samples\n$\\mu$ = %.2f, $\\sigma$ = %.2f' % (mu, sigma))
plt.title('Run 507, channel031, Pedestal')
plt.xlabel('Sample #')
plt.ylabel('ADC Counts')
plt.legend(loc='upper right')
plt.grid(True)
plt.tight_layout()
plt.subplots_adjust(top=0.965)
plt.savefig('out.png', dpi=100)
